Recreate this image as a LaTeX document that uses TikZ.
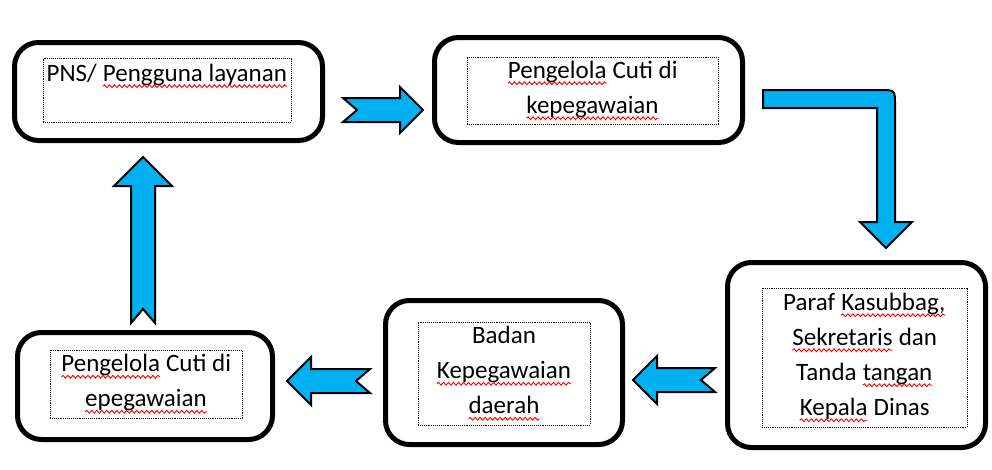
\documentclass[tikz,border=0pt]{standalone}
\usepackage{fontspec}
\setmainfont{Carlito}
\usepackage{tikz}
\usetikzlibrary{decorations.pathmorphing}
\definecolor{arrowblue}{HTML}{00B0F0}
\tikzstyle{outer_box}=[draw=black, line width=5pt, rounded corners=24pt, fill=white]
\tikzstyle{inner_box}=[draw=black, densely dotted, line width=0.9pt, align=center, inner sep=0pt, font=\fontsize{25}{35}\selectfont]
\tikzstyle{block_arrow}=[fill=arrowblue, draw=black, line width=2pt, line join=miter]
\tikzstyle{word_box}=[draw=none, fill=none, inner sep=0pt, outer sep=0pt, minimum width=0pt, minimum height=0pt, anchor=base]
\tikzstyle{spell_line}=[draw=red, solid, line width=0.9pt, decorate, decoration={snake, amplitude=1.4pt, segment length=5pt}]
\newcommand{\squig}[1]{\tikz[baseline=(w.base)]{\node[word_box] (w) {#1}; \draw[spell_line] ([yshift=-5pt]w.base west) -- ([yshift=-5pt]w.base east);}}
\tikzset{pics/notch_arrow/.style args={#1/#2}{code={
  \filldraw[block_arrow] (-#1,-12) -- (#1-#2,-12) -- (#1-#2,-#2) -- (#1,0) -- (#1-#2,#2) -- (#1-#2,12) -- (-#1,12) -- (-#1+14,0) -- cycle;}}}
\begin{document}
\begin{tikzpicture}[x=1pt, y=-1pt]
  \useasboundingbox (0,0) rectangle (992,469);
  \node[outer_box, minimum width=308pt, minimum height=98pt] (box1) at (168.5,91.5) {};
  \node[inner_box, minimum width=248pt, minimum height=64pt] (lbl1) at (167,90) {PNS/ \squig{Pengguna layanan}\\ ~};
  \node[outer_box, minimum width=308pt, minimum height=105pt] (box2) at (588.5,90) {};
  \node[inner_box, minimum width=251pt, minimum height=67pt] (lbl2) at (592.5,90.5) {\squig{Pengelola} Cuti di\\ \squig{kepegawaian}};
  \node[outer_box, minimum width=258pt, minimum height=185pt] (box3) at (856.5,355) {};
  \node[inner_box, minimum width=205pt, minimum height=139pt] (lbl3) at (864.5,357.5) {Paraf \squig{Kasubbag,}\\ \squig{Sekretaris} dan\\ Tanda \squig{tangan}\\ \squig{Kepala} Dinas};
  \node[outer_box, minimum width=237pt, minimum height=144pt] (box4) at (504,372.5) {};
  \node[inner_box, minimum width=172pt, minimum height=103pt] (lbl4) at (504,373.5) {Badan\\ \squig{Kepegawaian}\\ \squig{daerah}};
  \node[outer_box, minimum width=255pt, minimum height=107pt] (box5) at (145,386) {};
  \node[inner_box, minimum width=192pt, minimum height=68pt] (lbl5) at (146,384) {\squig{Pengelola} Cuti di\\ \squig{epegawaian}};
  \pic at (383,110) {notch_arrow=40/23};
  \filldraw[block_arrow] (763,90) -- (880,90) .. controls (895,90) .. (895,105) -- (895,222) -- (912,222) -- (886,248) -- (860,222) -- (877,222) -- (877,108) -- (763,108) -- cycle;
  \pic[rotate=180] at (674,380) {notch_arrow=41/24};
  \pic[rotate=180] at (328.5,381) {notch_arrow=41.5/24};
  \pic[rotate=90] at (143,240) {notch_arrow=83/29};
\end{tikzpicture}
\end{document}
